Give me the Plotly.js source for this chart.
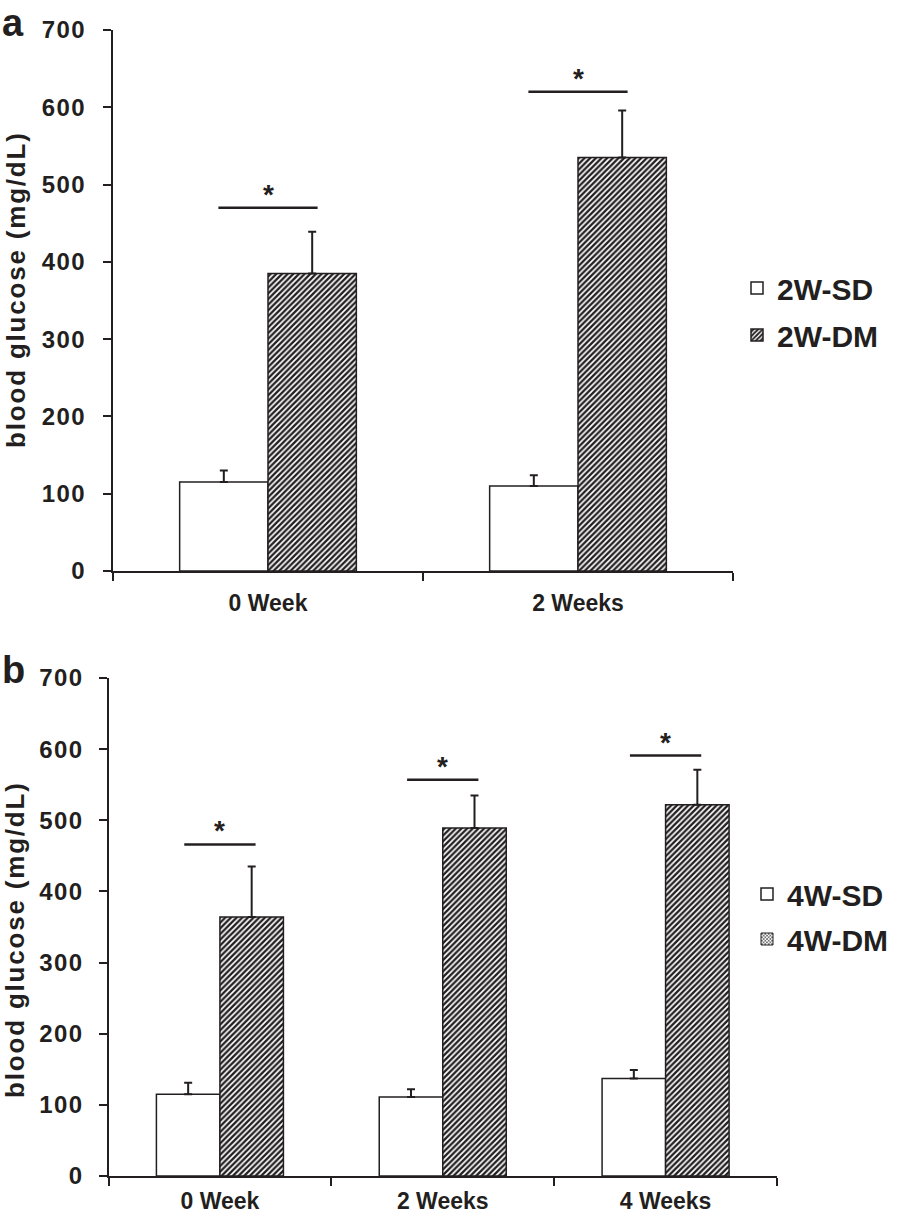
<!DOCTYPE html>
<html><head><meta charset="utf-8">
<script src="https://cdn.plot.ly/plotly-3.0.1.min.js"></script>
<style>
html,body{margin:0;padding:0;background:#fff;}
g.annotation[data-index="0"] text, g.annotation[data-index="1"] text{letter-spacing:1.8px;}
g.ytick text, g.y2tick text{letter-spacing:1.5px;}
</style>
</head><body><div id="chart" style="width:898px;height:1215px;"></div>
<script>
const W = 898, H = 1215;
// ---- Panel a data ----
const categoriesA = ['0 Week', '2 Weeks'];
const namesA = ['2W-SD', '2W-DM'];
const sdA = [115, 110];
const sdAErr = [15, 14];
const dmA = [385, 535];
const dmAErr = [54, 61];
const sigA = [470, 620];
// ---- Panel b data ----
const categoriesB = ['0 Week', '2 Weeks', '4 Weeks'];
const namesB = ['4W-SD', '4W-DM'];
const sdB = [115, 111, 137];
const sdBErr = [16, 11, 12];
const dmB = [364, 489, 522];
const dmBErr = [71, 46, 49];
const sigB = [466, 557, 591];
const yTicks = [0, 100, 200, 300, 400, 500, 600, 700];
const yTitle = 'blood glucose (mg/dL)';
const panelLabels = ['a', 'b'];

const INK = '#231f20';
const px = v => v / W;
const py = v => 1 - v / H;
const zeros = arr => arr.map(() => 0);

const hatch = {shape: '/', fgcolor: INK, bgcolor: 'white', size: 4, solidity: 0.58};
const errStyle = (arr) => ({type: 'data', array: arr, arrayminus: zeros(arr), symmetric: false,
  color: INK, thickness: 2, width: 4});

const traces = [
  {type: 'bar', name: namesA[0], x: categoriesA, y: sdA, xaxis: 'x', yaxis: 'y', legend: 'legend',
   legendgroup: 'a1', marker: {color: 'white', line: {color: INK, width: 1.5}}, error_y: errStyle(sdAErr)},
  {type: 'bar', name: namesA[1], x: categoriesA, y: dmA, xaxis: 'x', yaxis: 'y', legend: 'legend',
   legendgroup: 'a2', marker: {color: 'white', line: {color: INK, width: 1.5}, pattern: hatch}, error_y: errStyle(dmAErr)},
  {type: 'bar', name: namesB[0], x: categoriesB, y: sdB, xaxis: 'x2', yaxis: 'y2', legend: 'legend2',
   legendgroup: 'b1', offsetgroup: 'sdB', marker: {color: 'white', line: {color: INK, width: 1.5}}, error_y: errStyle(sdBErr)},
  {type: 'bar', name: namesB[1], x: categoriesB, y: dmB, xaxis: 'x2', yaxis: 'y2', legend: 'legend2',
   showlegend: false, offsetgroup: 'dmB', marker: {color: 'white', line: {color: INK, width: 1.5}, pattern: hatch}, error_y: errStyle(dmBErr)},
  {type: 'bar', name: namesB[1], x: [categoriesB[0]], y: [null], xaxis: 'x2', yaxis: 'y2', legend: 'legend2',
   legendgroup: 'b2', offsetgroup: 'dmB', hoverinfo: 'skip',
   marker: {color: 'white', line: {color: INK, width: 1}, pattern: {shape: 'x', fgcolor: INK, bgcolor: 'white', size: 3, solidity: 0.4}}}
];

const tickFontY = {family: 'Liberation Sans, Arial, sans-serif', size: 24, color: INK, weight: 'bold'};
const tickFontX = {family: 'Liberation Sans, Arial, sans-serif', size: 23, color: INK, weight: 'bold'};

function xAxis(dom, n, anchor, standoff) {
  return {domain: dom, anchor: anchor, type: 'category', range: [-0.5, n - 0.5],
    showline: true, linecolor: INK, linewidth: 2, ticks: 'outside', tickson: 'boundaries',
    ticklen: 8, tickwidth: 2, tickcolor: INK, tickfont: tickFontX, ticklabelstandoff: standoff,
    showgrid: false, zeroline: false, fixedrange: true};
}
function yAxis(dom, anchor, standoff) {
  return {domain: dom, anchor: anchor, range: [0, 700], tickvals: yTicks, ticktext: yTicks.map(String),
    showline: true, linecolor: INK, linewidth: 2, ticks: 'outside', ticklen: 8, tickwidth: 2, tickcolor: INK,
    tickfont: tickFontY, ticklabelstandoff: standoff, showgrid: false, zeroline: false, fixedrange: true};
}

const shapes = [];
const annotations = [
  {text: yTitle, xref: 'paper', yref: 'paper', x: px(16), y: py(290), textangle: -90, showarrow: false,
   xanchor: 'center', yanchor: 'middle', font: {size: 26, color: INK, weight: 'bold'}},
  {text: yTitle, xref: 'paper', yref: 'paper', x: px(15), y: py(940), textangle: -90, showarrow: false,
   xanchor: 'center', yanchor: 'middle', font: {size: 26, color: INK, weight: 'bold'}},
  {text: panelLabels[0], xref: 'paper', yref: 'paper', x: 0, y: py(0), xanchor: 'left', yanchor: 'top',
   showarrow: false, font: {size: 38, color: INK, weight: 'bold'}},
  {text: panelLabels[1], xref: 'paper', yref: 'paper', x: 0, y: py(647), xanchor: 'left', yanchor: 'top',
   showarrow: false, font: {size: 38, color: INK, weight: 'bold'}}
];
function addSig(sig, xr, yr) {
  sig.forEach((v, i) => {
    shapes.push({type: 'line', xref: xr, yref: yr, x0: i - 0.16, x1: i + 0.16, y0: v, y1: v,
      line: {color: INK, width: 2.5}});
    annotations.push({text: '*', xref: xr, yref: yr, x: i, y: v, showarrow: false, yanchor: 'bottom',
      yshift: -4, font: {size: 28, color: INK, weight: 'bold'}});
  });
}
addSig(sigA, 'x', 'y');
addSig(sigB, 'x2', 'y2');

const legendFont = {family: 'Liberation Sans, Arial, sans-serif', size: 30, color: INK, weight: 'bold'};

const layout = {
  width: W, height: H, margin: {l: 0, r: 0, t: 0, b: 0},
  paper_bgcolor: 'white', plot_bgcolor: 'white',
  font: {family: 'Liberation Sans, Arial, sans-serif', color: INK},
  barmode: 'group', bargap: 0.43, bargroupgap: 0,
  showlegend: true,
  xaxis: xAxis([px(113), px(733)], categoriesA.length, 'y', 10),
  yaxis: yAxis([py(571), py(30)], 'x', 12),
  xaxis2: xAxis([px(108.5), px(777)], categoriesB.length, 'y2', 3),
  yaxis2: yAxis([py(1176), py(678)], 'x2', 10),
  legend: {x: px(737), xanchor: 'left', y: py(262), yanchor: 'top', font: legendFont,
    tracegroupgap: 5, bgcolor: 'rgba(0,0,0,0)', borderwidth: 0, itemclick: false, itemdoubleclick: false},
  legend2: {x: px(747), xanchor: 'left', y: py(868), yanchor: 'top', font: legendFont,
    tracegroupgap: 3, bgcolor: 'rgba(0,0,0,0)', borderwidth: 0, itemclick: false, itemdoubleclick: false},
  shapes: shapes,
  annotations: annotations
};

Plotly.newPlot('chart', traces, layout, {displayModeBar: false, staticPlot: true});
</script>
</body></html>
